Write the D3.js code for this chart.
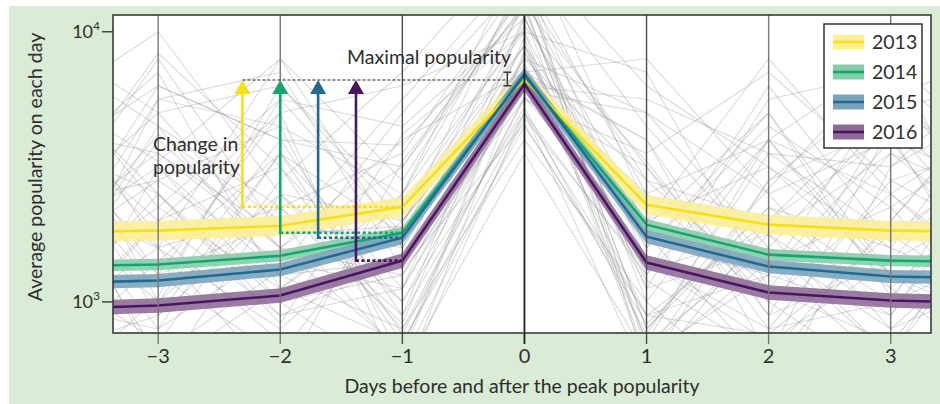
<!DOCTYPE html>
<html>
<head>
<meta charset="utf-8">
<script src="https://cdn.jsdelivr.net/npm/d3@7"></script>
<style>
  html, body { margin: 0; padding: 0; background: #ffffff; }
  svg { display: block; }
  text { font-family: Lato, "Open Sans", sans-serif; fill: #2e2e2e; }
</style>
</head>
<body>
<svg id="chart" width="940" height="404"></svg>
<script>
// ---------------- DATA ----------------
const days = [-4, -3, -2, -1, 0, 1, 2, 3, 4];
const years = ["2013", "2014", "2015", "2016"];
const pop2013 = [1810, 1836, 1915, 2250, 6680, 2290, 1933, 1836, 1815];
const pop2014 = [1352, 1375, 1483, 1803, 6855, 1932, 1496, 1422, 1399];
const pop2015 = [1169, 1200, 1318, 1729, 6979, 1744, 1352, 1242, 1220];
const pop2016 = [937, 970, 1056, 1422, 6410, 1399, 1084, 1012, 986];
const ciFactor = [1.088, 1.05, 1.058, 1.064];
const lineColors = ["#f5e01a", "#16a571", "#1f6b8f", "#4a1660"];
const bandColors = ["#fcef96", "#84cdaa", "#7aa2bc", "#8d6a96"];
const arrowDay = [-2.31, -2.0, -1.69, -1.38];
const maxPopularity = 6630;
const xTicks = [-3, -2, -1, 0, 1, 2, 3];
const xTickLabels = ["\u22123", "\u22122", "\u22121", "0", "1", "2", "3"];
const yTicks = [1000, 10000];
const yTickExp = ["3", "4"];
// individual trajectories (log10 popularity at days -4..4), read as background texture
const bgLines = [
 [3.10,3.62,3.30,2.80,3.92,3.20,3.70,3.02,3.50],
 [3.90,3.20,2.70,3.52,4.10,2.90,3.42,3.90,3.10],
 [2.60,3.02,3.80,3.30,3.84,3.60,2.80,3.30,3.82],
 [3.50,2.80,3.12,3.70,4.20,3.40,3.00,2.70,3.22],
 [3.30,3.92,3.50,3.00,3.70,2.72,3.30,3.62,2.90],
 [2.90,3.40,2.92,3.62,4.00,3.10,3.80,3.22,3.60],
 [3.80,3.52,3.90,3.20,3.90,3.70,3.20,2.80,3.40],
 [3.20,2.70,3.40,2.90,3.60,3.00,2.62,3.50,3.90],
 [3.60,3.10,2.80,3.40,4.30,3.80,3.50,3.10,2.80],
 [2.80,3.30,3.70,3.80,4.00,2.80,3.10,3.80,3.30],
 [4.00,3.70,3.20,3.10,3.80,3.30,3.90,3.40,3.00],
 [3.40,3.00,3.60,3.50,4.10,3.50,2.90,3.00,3.70],
 [2.70,3.50,3.00,2.70,3.70,3.10,3.60,3.90,3.50],
 [3.70,4.00,3.40,3.30,3.95,2.85,3.20,2.90,3.30],
 [3.00,2.90,3.20,3.60,3.85,3.90,3.40,3.60,3.00],
 [3.50,3.80,3.60,2.95,4.05,3.25,2.75,3.30,3.80],
 [2.90,3.20,3.90,3.45,4.15,3.00,3.60,3.05,2.70],
 [3.85,3.40,2.95,3.15,3.75,3.55,3.85,3.45,3.20],
 [3.25,3.55,3.25,3.75,4.25,3.65,3.15,2.75,3.05],
 [3.60,2.75,3.05,2.85,3.65,2.95,3.30,3.75,3.95],
 [3.05,3.35,3.75,3.25,3.90,3.45,3.05,3.55,3.35],
 [3.95,3.65,3.35,3.55,4.20,3.15,2.85,3.15,3.65],
 [2.75,3.15,3.55,3.05,3.80,3.75,3.55,3.25,2.95],
 [3.45,3.85,3.05,3.35,3.95,3.05,3.75,3.85,3.45],
 [3.15,2.85,3.45,3.85,4.35,3.35,3.25,2.95,3.55],
 [3.75,3.25,2.85,2.75,3.55,2.80,3.45,3.65,3.15],
 [2.85,3.75,3.65,3.40,4.00,3.85,3.05,2.85,3.35],
 [3.55,3.05,3.75,3.65,4.05,3.20,3.65,3.35,2.85],
 [3.35,3.45,3.15,3.05,3.85,3.60,2.95,3.70,3.85],
 [3.65,2.95,3.55,3.25,4.10,2.90,3.35,3.05,3.45],
 [3.20,3.50,3.10,2.90,3.75,3.50,3.00,3.40,3.70],
 [3.00,3.10,3.30,3.20,3.95,3.30,3.50,3.20,3.00],
 [3.70,3.30,3.50,2.85,3.70,2.95,3.10,3.60,3.40],
 [2.95,3.60,3.20,3.50,4.15,3.45,3.30,3.00,3.20],
 [3.40,3.20,2.90,3.30,3.88,3.15,2.90,3.45,3.60],
 [3.85,3.00,3.40,3.00,3.82,3.40,3.60,3.10,2.90],
 [3.10,3.80,3.60,3.58,4.08,3.05,3.20,3.70,3.50],
 [3.60,3.40,3.00,3.10,3.78,3.70,3.40,2.90,3.10],
 [2.80,2.95,3.35,2.95,3.72,2.88,3.55,3.50,3.75],
 [3.30,3.70,3.80,3.35,4.02,3.52,2.95,3.15,3.40],
 [3.15,3.45,3.65,2.78,3.68,3.12,3.25,3.55,3.20],
 [3.55,3.20,3.35,2.92,3.98,2.78,3.15,3.35,3.65],
 [2.95,3.65,3.10,3.15,4.12,3.28,3.70,3.10,2.95],
 [3.75,3.10,3.70,2.70,3.86,2.95,2.88,3.25,3.55],
 [3.25,3.90,3.25,3.28,4.22,2.75,3.45,3.80,3.25],
 [3.45,2.90,3.55,2.88,3.76,3.22,3.10,2.95,3.60],
 [2.85,3.30,2.95,3.05,4.06,2.85,3.60,3.40,3.05],
 [3.65,3.55,3.20,2.82,3.93,3.08,2.80,3.65,3.30],
 [3.05,3.75,3.85,3.12,3.66,2.92,3.35,3.20,3.80],
 [3.90,3.35,3.05,3.40,4.18,2.82,3.25,2.80,3.50]
];

// ---------------- LAYOUT ----------------
const svg = d3.select("#chart");
const M = { left: 113, right: 931, top: 15, bottom: 333 };

svg.append("rect").attr("x", 9).attr("y", 6).attr("width", 931).attr("height", 398)
  .attr("fill", "#daebd6");

const x = d3.scaleLinear().domain([-3.37, 3.33]).range([M.left, M.right]);
const y = d3.scaleLog().domain([Math.pow(10, 2.885), Math.pow(10, 4.062)]).range([M.bottom, M.top]);

svg.append("rect").attr("x", M.left).attr("y", M.top)
  .attr("width", M.right - M.left).attr("height", M.bottom - M.top).attr("fill", "#ffffff");

const defs = svg.append("defs");
defs.append("clipPath").attr("id", "plotclip").append("rect")
  .attr("x", M.left).attr("y", M.top).attr("width", M.right - M.left).attr("height", M.bottom - M.top);

const plot = svg.append("g").attr("clip-path", "url(#plotclip)");

// background trajectories
const bgLine = d3.line().x((d, i) => x(days[i])).y(d => y(Math.pow(10, d)));
plot.append("g").selectAll("path").data(bgLines).join("path")
  .attr("d", bgLine).attr("fill", "none").attr("stroke", "#8f8f8f")
  .attr("stroke-width", 1.1).attr("stroke-opacity", 0.32);

// vertical grid / tick lines
const gridColor = d => d === 0 ? "#1e1e1e" : (Math.abs(d) === 1 ? "#4a4a4a" : "#777777");
svg.append("g").selectAll("line").data(xTicks).join("line")
  .attr("x1", d => x(d)).attr("x2", d => x(d))
  .attr("y1", M.top).attr("y2", M.bottom + 11)
  .attr("stroke", gridColor).attr("stroke-width", d => d === 0 ? 1.8 : 1.4);

// series
const series = [pop2013, pop2014, pop2015, pop2016].map((vals, k) => ({
  year: years[k], vals, ci: ciFactor[k], line: lineColors[k], band: bandColors[k]
}));
const area = d3.area().x((d, i) => x(days[i]));
const lineGen = d3.line().x((d, i) => x(days[i])).y(d => y(d));

const seriesG = plot.append("g");
series.forEach(s => {
  seriesG.append("path")
    .attr("d", area.y0(d => y(d / s.ci)).y1(d => y(d * s.ci))(s.vals))
    .attr("fill", s.band).attr("fill-opacity", 0.88);
});
series.forEach(s => {
  seriesG.append("path").attr("d", lineGen(s.vals))
    .attr("fill", "none").attr("stroke", s.line).attr("stroke-width", 2.6);
});

// plot border
svg.append("rect").attr("x", M.left).attr("y", M.top)
  .attr("width", M.right - M.left).attr("height", M.bottom - M.top)
  .attr("fill", "none").attr("stroke", "#3a3a3a").attr("stroke-width", 1.6);

// x tick labels
svg.append("g").selectAll("text").data(xTicks).join("text")
  .attr("x", d => x(d)).attr("y", 363).attr("text-anchor", "middle")
  .attr("font-size", 20).text((d, i) => xTickLabels[i]);

// y ticks
yTicks.forEach((v, i) => {
  svg.append("line").attr("x1", M.left - 11).attr("x2", M.left)
    .attr("y1", y(v)).attr("y2", y(v)).attr("stroke", "#3a3a3a").attr("stroke-width", 1.4);
  const t = svg.append("text").attr("x", 100).attr("y", y(v) + 6)
    .attr("text-anchor", "end").attr("font-size", 18);
  t.append("tspan").text("10");
  t.append("tspan").attr("dy", -8).attr("font-size", 12).text(yTickExp[i]);
});

// axis titles
svg.append("text").attr("x", 522).attr("y", 393).attr("text-anchor", "middle")
  .attr("font-size", 19.5).text("Days before and after the peak popularity");
svg.append("text").attr("transform", "translate(42,167) rotate(-90)")
  .attr("text-anchor", "middle").attr("font-size", 19.5).text("Average popularity on each day");

// ---------------- ANNOTATIONS ----------------
const ann = svg.append("g");
const yMax = y(maxPopularity);
ann.append("line").attr("x1", x(arrowDay[0])).attr("x2", x(-0.14))
  .attr("y1", yMax).attr("y2", yMax).attr("stroke", "#222").attr("stroke-width", 1.1)
  .attr("stroke-dasharray", "3,2");
// I bar
const peaks = series.map(s => s.vals[4]);
const pLo = y(d3.min(peaks) * 0.985), pHi = y(d3.max(peaks) * 1.015);
ann.append("line").attr("x1", x(-0.14)).attr("x2", x(-0.14)).attr("y1", pLo).attr("y2", pHi)
  .attr("stroke", "#333").attr("stroke-width", 1.4);
[pLo, pHi].forEach(py => ann.append("line").attr("x1", x(-0.14) - 4).attr("x2", x(-0.14) + 4)
  .attr("y1", py).attr("y2", py).attr("stroke", "#333").attr("stroke-width", 1.4));

ann.append("text").attr("x", 347).attr("y", 64).attr("font-size", 19.5).text("Maximal popularity");
ann.append("text").attr("x", 153).attr("y", 151).attr("font-size", 19.5).text("Change in");
ann.append("text").attr("x", 153).attr("y", 174).attr("font-size", 19.5).text("popularity");

series.forEach((s, k) => {
  const ax = x(arrowDay[k]);
  const yb = y(s.vals[3]);
  ann.append("line").attr("x1", ax).attr("x2", x(-1)).attr("y1", yb).attr("y2", yb)
    .attr("stroke", s.line).attr("stroke-width", 2.6).attr("stroke-dasharray", "3,2.5");
  ann.append("line").attr("x1", ax).attr("x2", ax).attr("y1", yb + 1.3).attr("y2", yMax + 12)
    .attr("stroke", s.line).attr("stroke-width", 2.6);
  ann.append("path").attr("d", `M${ax},${yMax} L${ax - 8},${yMax + 14} L${ax + 8},${yMax + 14} Z`)
    .attr("fill", s.line);
});

// ---------------- LEGEND ----------------
const lg = svg.append("g");
lg.append("rect").attr("x", 824).attr("y", 24).attr("width", 98).attr("height", 124)
  .attr("fill", "#ffffff").attr("stroke", "#333").attr("stroke-width", 1.5);
series.forEach((s, k) => {
  const cy = 42 + k * 30;
  lg.append("rect").attr("x", 833).attr("y", cy - 7.5).attr("width", 31).attr("height", 15)
    .attr("fill", s.band);
  lg.append("line").attr("x1", 833).attr("x2", 864).attr("y1", cy).attr("y2", cy)
    .attr("stroke", s.line).attr("stroke-width", 2.6);
  lg.append("text").attr("x", 872).attr("y", cy + 7).attr("font-size", 19.5).text(s.year);
});
</script>
</body>
</html>
